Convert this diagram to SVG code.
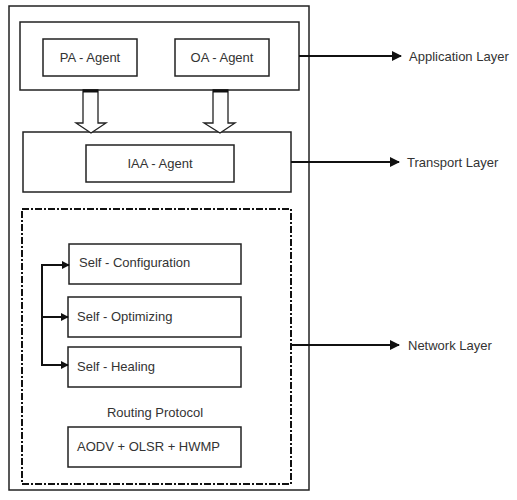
<svg xmlns="http://www.w3.org/2000/svg" width="517" height="500" viewBox="0 0 517 500">
  <style>
    .box { fill: #fff; stroke: #222; stroke-width: 1.5; }
    .frame { fill: none; stroke: #222; stroke-width: 1.5; }
    .dashframe { fill: none; stroke: #111; stroke-width: 2; stroke-dasharray: 7 2 2 2; }
    .wire { fill: none; stroke: #111; stroke-width: 2; }
    .block { fill: #fff; stroke: #222; stroke-width: 1.3; }
    text { font-family: "Liberation Sans", Arial, sans-serif; font-size: 13px; fill: #333; }
    .mid { text-anchor: middle; }
  </style>
  <defs>
    <marker id="head" viewBox="0 0 10 10" refX="9" refY="5" markerWidth="5" markerHeight="5" orient="auto" markerUnits="strokeWidth">
      <path d="M0,0 L10,5 L0,10 z" fill="#111"/>
    </marker>
    <marker id="headSmall" viewBox="0 0 10 10" refX="9" refY="5" markerWidth="4" markerHeight="4" orient="auto" markerUnits="strokeWidth">
      <path d="M0,0 L10,5 L0,10 z" fill="#111"/>
    </marker>
  </defs>

  <rect width="517" height="500" fill="#fff"/>

  <!-- outer frame -->
  <rect id="outer" class="frame" x="9" y="6" width="300" height="484"/>

  <!-- application layer -->
  <g id="application">
    <rect class="box" x="20" y="22" width="279" height="68"/>
  </g>
  <g id="pa-agent">
    <rect class="box" x="43" y="39" width="94" height="37"/>
    <text class="mid" x="90" y="62">PA - Agent</text>
  </g>
  <g id="oa-agent">
    <rect class="box" x="175" y="39" width="94" height="37"/>
    <text class="mid" x="222" y="62">OA - Agent</text>
  </g>

  <!-- transport layer -->
  <g id="transport">
    <rect class="box" x="23" y="132" width="268" height="60"/>
  </g>
  <g id="iaa-agent">
    <rect class="box" x="86" y="145" width="148" height="37"/>
    <text class="mid" x="160" y="168">IAA - Agent</text>
  </g>

  <!-- network layer -->
  <g id="network">
    <rect class="dashframe" x="22" y="209" width="269" height="275"/>
  </g>
  <g id="self-configuration">
    <rect class="box" x="69" y="244" width="172" height="40"/>
    <text x="79" y="267">Self - Configuration</text>
  </g>
  <g id="self-optimizing">
    <rect class="box" x="68" y="297" width="173" height="40"/>
    <text x="77" y="321">Self - Optimizing</text>
  </g>
  <g id="self-healing">
    <rect class="box" x="68" y="347" width="173" height="40"/>
    <text x="77" y="371">Self - Healing</text>
  </g>
  <g id="routing-protocol">
    <text class="mid" x="155" y="417">Routing Protocol</text>
    <rect class="box" x="68" y="427" width="173" height="40"/>
    <text x="77" y="451">AODV + OLSR + HWMP</text>
  </g>

  <!-- layer labels -->
  <g id="label-application"><text x="409" y="61">Application Layer</text></g>
  <g id="label-transport"><text x="407" y="167">Transport Layer</text></g>
  <g id="label-network"><text x="408" y="350">Network Layer</text></g>

  <!-- connectors -->
  <g id="connectors">
    <!-- block arrows from agents down to IAA -->
    <polygon class="block" points="83,90 98,90 98,123 106,123 91,133 76,123 83,123"/>
    <line x1="83" y1="91" x2="98" y2="91" stroke="#111" stroke-width="3"/>
    <polygon class="block" points="213,90 228,90 228,123 235,123 220,133 204,123 213,123"/>
    <line x1="213" y1="91" x2="228" y2="91" stroke="#111" stroke-width="3"/>

    <!-- layer pointers -->
    <line class="wire" x1="299" y1="56" x2="401" y2="56" marker-end="url(#head)"/>
    <line class="wire" x1="291" y1="162" x2="399" y2="162" marker-end="url(#head)"/>
    <line class="wire" x1="291" y1="345" x2="399" y2="345" marker-end="url(#head)"/>

    <!-- self-* bracket -->
    <path class="wire" d="M68,265 H42 V365 H68" />
    <line class="wire" x1="42" y1="265" x2="69" y2="265" marker-end="url(#headSmall)"/>
    <line class="wire" x1="42" y1="317" x2="68" y2="317" marker-end="url(#headSmall)"/>
    <line class="wire" x1="42" y1="365" x2="68" y2="365" marker-end="url(#headSmall)"/>
  </g>
</svg>
